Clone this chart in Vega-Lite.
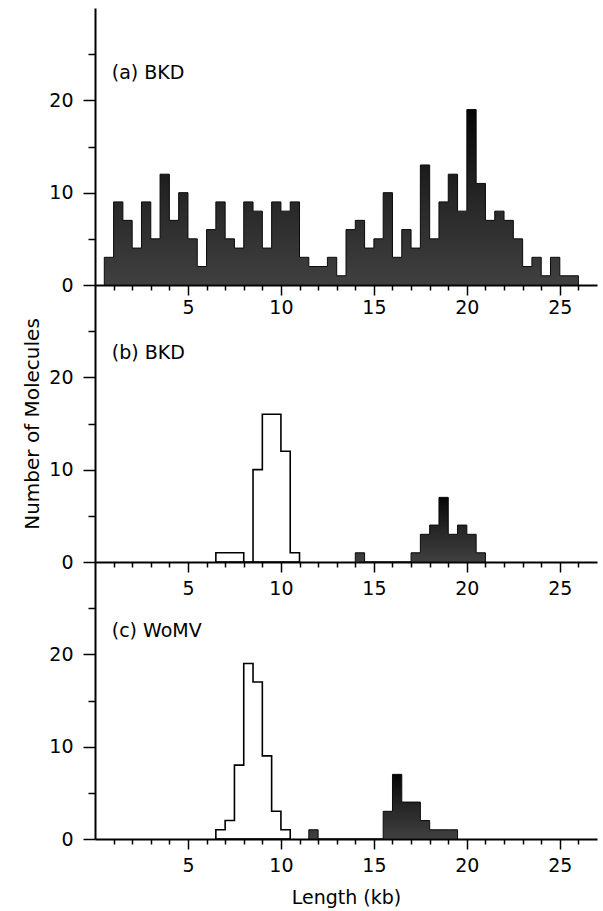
{
  "$schema": "https://vega.github.io/schema/vega-lite/v6.json",
  "background": "white",
  "padding": {"left": 22, "top": 8, "right": 4, "bottom": 2},
  "config": {
    "font": "DejaVu Sans",
    "view": {"stroke": null},
    "axis": {
      "domainColor": "black", "domainWidth": 2, "tickColor": "black", "tickWidth": 1.5,
      "labelColor": "black", "labelFont": "DejaVu Sans", "labelFontSize": 19, "labelFontWeight": "normal",
      "titleColor": "black", "titleFont": "DejaVu Sans", "titleFontWeight": "normal",
      "grid": false, "labelOverlap": false, "labelFlush": false
    },
    "text": {"font": "DejaVu Sans", "fontSize": 19, "fontWeight": "normal", "color": "black"}
  },
  "datasets": {
    "hist": [
      {"panel": "a", "kind": "filled", "kb": 0.5, "n": 3},
      {"panel": "a", "kind": "filled", "kb": 1.0, "n": 9},
      {"panel": "a", "kind": "filled", "kb": 1.5, "n": 7},
      {"panel": "a", "kind": "filled", "kb": 2.0, "n": 4},
      {"panel": "a", "kind": "filled", "kb": 2.5, "n": 9},
      {"panel": "a", "kind": "filled", "kb": 3.0, "n": 5},
      {"panel": "a", "kind": "filled", "kb": 3.5, "n": 12},
      {"panel": "a", "kind": "filled", "kb": 4.0, "n": 7},
      {"panel": "a", "kind": "filled", "kb": 4.5, "n": 10},
      {"panel": "a", "kind": "filled", "kb": 5.0, "n": 5},
      {"panel": "a", "kind": "filled", "kb": 5.5, "n": 2},
      {"panel": "a", "kind": "filled", "kb": 6.0, "n": 6},
      {"panel": "a", "kind": "filled", "kb": 6.5, "n": 9},
      {"panel": "a", "kind": "filled", "kb": 7.0, "n": 5},
      {"panel": "a", "kind": "filled", "kb": 7.5, "n": 4},
      {"panel": "a", "kind": "filled", "kb": 8.0, "n": 9},
      {"panel": "a", "kind": "filled", "kb": 8.5, "n": 8},
      {"panel": "a", "kind": "filled", "kb": 9.0, "n": 4},
      {"panel": "a", "kind": "filled", "kb": 9.5, "n": 9},
      {"panel": "a", "kind": "filled", "kb": 10.0, "n": 8},
      {"panel": "a", "kind": "filled", "kb": 10.5, "n": 9},
      {"panel": "a", "kind": "filled", "kb": 11.0, "n": 3},
      {"panel": "a", "kind": "filled", "kb": 11.5, "n": 2},
      {"panel": "a", "kind": "filled", "kb": 12.0, "n": 2},
      {"panel": "a", "kind": "filled", "kb": 12.5, "n": 3},
      {"panel": "a", "kind": "filled", "kb": 13.0, "n": 1},
      {"panel": "a", "kind": "filled", "kb": 13.5, "n": 6},
      {"panel": "a", "kind": "filled", "kb": 14.0, "n": 7},
      {"panel": "a", "kind": "filled", "kb": 14.5, "n": 4},
      {"panel": "a", "kind": "filled", "kb": 15.0, "n": 5},
      {"panel": "a", "kind": "filled", "kb": 15.5, "n": 10},
      {"panel": "a", "kind": "filled", "kb": 16.0, "n": 3},
      {"panel": "a", "kind": "filled", "kb": 16.5, "n": 6},
      {"panel": "a", "kind": "filled", "kb": 17.0, "n": 4},
      {"panel": "a", "kind": "filled", "kb": 17.5, "n": 13},
      {"panel": "a", "kind": "filled", "kb": 18.0, "n": 5},
      {"panel": "a", "kind": "filled", "kb": 18.5, "n": 9},
      {"panel": "a", "kind": "filled", "kb": 19.0, "n": 12},
      {"panel": "a", "kind": "filled", "kb": 19.5, "n": 8},
      {"panel": "a", "kind": "filled", "kb": 20.0, "n": 19},
      {"panel": "a", "kind": "filled", "kb": 20.5, "n": 11},
      {"panel": "a", "kind": "filled", "kb": 21.0, "n": 7},
      {"panel": "a", "kind": "filled", "kb": 21.5, "n": 8},
      {"panel": "a", "kind": "filled", "kb": 22.0, "n": 7},
      {"panel": "a", "kind": "filled", "kb": 22.5, "n": 5},
      {"panel": "a", "kind": "filled", "kb": 23.0, "n": 2},
      {"panel": "a", "kind": "filled", "kb": 23.5, "n": 3},
      {"panel": "a", "kind": "filled", "kb": 24.0, "n": 1},
      {"panel": "a", "kind": "filled", "kb": 24.5, "n": 3},
      {"panel": "a", "kind": "filled", "kb": 25.0, "n": 1},
      {"panel": "a", "kind": "filled", "kb": 25.5, "n": 1},
      {"panel": "a", "kind": "filled", "kb": 26.0, "n": 0},

      {"panel": "b", "kind": "open", "kb": 6.5, "n": 1},
      {"panel": "b", "kind": "open", "kb": 7.0, "n": 1},
      {"panel": "b", "kind": "open", "kb": 7.5, "n": 1},
      {"panel": "b", "kind": "open", "kb": 8.0, "n": 0},
      {"panel": "b", "kind": "open", "kb": 8.5, "n": 10},
      {"panel": "b", "kind": "open", "kb": 9.0, "n": 16},
      {"panel": "b", "kind": "open", "kb": 9.5, "n": 16},
      {"panel": "b", "kind": "open", "kb": 10.0, "n": 12},
      {"panel": "b", "kind": "open", "kb": 10.5, "n": 1},
      {"panel": "b", "kind": "open", "kb": 11.0, "n": 0},
      {"panel": "b", "kind": "filled", "kb": 14.0, "n": 1},
      {"panel": "b", "kind": "filled", "kb": 14.5, "n": 0},
      {"panel": "b", "kind": "filled", "kb": 17.0, "n": 1},
      {"panel": "b", "kind": "filled", "kb": 17.5, "n": 3},
      {"panel": "b", "kind": "filled", "kb": 18.0, "n": 4},
      {"panel": "b", "kind": "filled", "kb": 18.5, "n": 7},
      {"panel": "b", "kind": "filled", "kb": 19.0, "n": 3},
      {"panel": "b", "kind": "filled", "kb": 19.5, "n": 4},
      {"panel": "b", "kind": "filled", "kb": 20.0, "n": 3},
      {"panel": "b", "kind": "filled", "kb": 20.5, "n": 1},
      {"panel": "b", "kind": "filled", "kb": 21.0, "n": 0},

      {"panel": "c", "kind": "open", "kb": 6.5, "n": 1},
      {"panel": "c", "kind": "open", "kb": 7.0, "n": 2},
      {"panel": "c", "kind": "open", "kb": 7.5, "n": 8},
      {"panel": "c", "kind": "open", "kb": 8.0, "n": 19},
      {"panel": "c", "kind": "open", "kb": 8.5, "n": 17},
      {"panel": "c", "kind": "open", "kb": 9.0, "n": 9},
      {"panel": "c", "kind": "open", "kb": 9.5, "n": 3},
      {"panel": "c", "kind": "open", "kb": 10.0, "n": 1},
      {"panel": "c", "kind": "open", "kb": 10.5, "n": 0},
      {"panel": "c", "kind": "filled", "kb": 11.5, "n": 1},
      {"panel": "c", "kind": "filled", "kb": 12.0, "n": 0},
      {"panel": "c", "kind": "filled", "kb": 15.5, "n": 3},
      {"panel": "c", "kind": "filled", "kb": 16.0, "n": 7},
      {"panel": "c", "kind": "filled", "kb": 16.5, "n": 4},
      {"panel": "c", "kind": "filled", "kb": 17.0, "n": 4},
      {"panel": "c", "kind": "filled", "kb": 17.5, "n": 2},
      {"panel": "c", "kind": "filled", "kb": 18.0, "n": 1},
      {"panel": "c", "kind": "filled", "kb": 18.5, "n": 1},
      {"panel": "c", "kind": "filled", "kb": 19.0, "n": 1},
      {"panel": "c", "kind": "filled", "kb": 19.5, "n": 0}
    ],
    "labels": [
      {"panel": "a", "label": "(a) BKD"},
      {"panel": "b", "label": "(b) BKD"},
      {"panel": "c", "label": "(c) WoMV"}
    ]
  },
  "spacing": 0,
  "bounds": "flush",
  "vconcat": [
    {
      "width": 502, "height": 277,
      "resolve": {"axis": {"x": "independent", "y": "independent"}},
      "layer": [
        {"data": {"name": "hist"},
         "transform": [{"filter": "datum.panel === 'a' && datum.kind === 'filled'"}],
         "mark": {"type": "area", "interpolate": "step-after", "stroke": "#0a0a0a", "strokeWidth": 1,
           "fill": {"gradient": "linear", "x1": 0, "y1": 0, "x2": 0, "y2": 1, "stops": [{"offset": 0, "color": "#050505"}, {"offset": 0.5, "color": "#262626"}, {"offset": 1, "color": "#404040"}]}},
         "encoding": {
           "x": {"field": "kb", "type": "quantitative", "scale": {"domain": [0, 27], "nice": false, "zero": false},
             "axis": {"orient": "bottom", "title": null, "values": [5,10,15,20,25], "tickSize": 10, "labelPadding": 3}},
           "y": {"field": "n", "type": "quantitative", "scale": {"domain": [0, 30], "nice": false},
             "axis": {"orient": "left", "title": null, "values": [0,10,20], "tickSize": 12, "labelPadding": 10}}
         }},
        {"data": {"name": "labels"},
         "transform": [{"filter": "datum.panel === 'a'"}],
         "mark": {"type": "text", "align": "left", "baseline": "middle"},
         "encoding": {
           "x": {"datum": 0.9, "type": "quantitative", "scale": {"domain": [0, 27], "nice": false, "zero": false},
             "axis": {"orient": "bottom", "title": null, "values": [1,2,3,4,6,7,8,9,11,12,13,14,16,17,18,19,21,22,23,24,26], "tickSize": 5, "labels": false, "domain": false}},
           "y": {"datum": 23, "type": "quantitative", "scale": {"domain": [0, 30], "nice": false},
             "axis": {"orient": "left", "title": null, "values": [5,15,25], "tickSize": 7, "labels": false, "domain": false}},
           "text": {"field": "label"}
         }}
      ]
    },
    {
      "width": 502, "height": 277,
      "resolve": {"axis": {"x": "independent", "y": "independent"}},
      "layer": [
        {"data": {"name": "hist"},
         "transform": [{"filter": "datum.panel === 'b' && datum.kind === 'filled'"}],
         "mark": {"type": "area", "interpolate": "step-after", "stroke": "#0a0a0a", "strokeWidth": 1,
           "fill": {"gradient": "linear", "x1": 0, "y1": 0, "x2": 0, "y2": 1, "stops": [{"offset": 0, "color": "#050505"}, {"offset": 0.5, "color": "#262626"}, {"offset": 1, "color": "#404040"}]}},
         "encoding": {
           "x": {"field": "kb", "type": "quantitative", "scale": {"domain": [0, 27], "nice": false, "zero": false},
             "axis": {"orient": "bottom", "title": null, "values": [5,10,15,20,25], "tickSize": 10, "labelPadding": 7}},
           "y": {"field": "n", "type": "quantitative", "scale": {"domain": [0, 30], "nice": false},
             "axis": {"orient": "left", "title": "Number of Molecules", "titleFontSize": 20, "titlePadding": 6, "values": [0,10,20], "tickSize": 12, "labelPadding": 10}}
         }},
        {"data": {"name": "hist"},
         "transform": [{"filter": "datum.panel === 'b' && datum.kind === 'open'"}],
         "mark": {"type": "area", "interpolate": "step-after", "stroke": "black", "strokeWidth": 1.6, "fill": "white", "fillOpacity": 0},
         "encoding": {
           "x": {"field": "kb", "type": "quantitative", "scale": {"domain": [0, 27], "nice": false, "zero": false}, "axis": null},
           "y": {"field": "n", "type": "quantitative", "scale": {"domain": [0, 30], "nice": false}, "axis": null}
         }},
        {"data": {"name": "labels"},
         "transform": [{"filter": "datum.panel === 'b'"}],
         "mark": {"type": "text", "align": "left", "baseline": "middle"},
         "encoding": {
           "x": {"datum": 0.9, "type": "quantitative", "scale": {"domain": [0, 27], "nice": false, "zero": false},
             "axis": {"orient": "bottom", "title": null, "values": [1,2,3,4,6,7,8,9,11,12,13,14,16,17,18,19,21,22,23,24,26], "tickSize": 5, "labels": false, "domain": false}},
           "y": {"datum": 22.6, "type": "quantitative", "scale": {"domain": [0, 30], "nice": false},
             "axis": {"orient": "left", "title": null, "values": [5,15,25], "tickSize": 7, "labels": false, "domain": false}},
           "text": {"field": "label"}
         }}
      ]
    },
    {
      "width": 502, "height": 277,
      "resolve": {"axis": {"x": "independent", "y": "independent"}},
      "layer": [
        {"data": {"name": "hist"},
         "transform": [{"filter": "datum.panel === 'c' && datum.kind === 'filled'"}],
         "mark": {"type": "area", "interpolate": "step-after", "stroke": "#0a0a0a", "strokeWidth": 1,
           "fill": {"gradient": "linear", "x1": 0, "y1": 0, "x2": 0, "y2": 1, "stops": [{"offset": 0, "color": "#050505"}, {"offset": 0.5, "color": "#262626"}, {"offset": 1, "color": "#404040"}]}},
         "encoding": {
           "x": {"field": "kb", "type": "quantitative", "scale": {"domain": [0, 27], "nice": false, "zero": false},
             "axis": {"orient": "bottom", "title": "Length (kb)", "titleFontSize": 19, "titlePadding": 13, "values": [5,10,15,20,25], "tickSize": 10, "labelPadding": 7}},
           "y": {"field": "n", "type": "quantitative", "scale": {"domain": [0, 30], "nice": false},
             "axis": {"orient": "left", "title": null, "values": [0,10,20], "tickSize": 12, "labelPadding": 10}}
         }},
        {"data": {"name": "hist"},
         "transform": [{"filter": "datum.panel === 'c' && datum.kind === 'open'"}],
         "mark": {"type": "area", "interpolate": "step-after", "stroke": "black", "strokeWidth": 1.6, "fill": "white", "fillOpacity": 0},
         "encoding": {
           "x": {"field": "kb", "type": "quantitative", "scale": {"domain": [0, 27], "nice": false, "zero": false}, "axis": null},
           "y": {"field": "n", "type": "quantitative", "scale": {"domain": [0, 30], "nice": false}, "axis": null}
         }},
        {"data": {"name": "labels"},
         "transform": [{"filter": "datum.panel === 'c'"}],
         "mark": {"type": "text", "align": "left", "baseline": "middle"},
         "encoding": {
           "x": {"datum": 0.9, "type": "quantitative", "scale": {"domain": [0, 27], "nice": false, "zero": false},
             "axis": {"orient": "bottom", "title": null, "values": [1,2,3,4,6,7,8,9,11,12,13,14,16,17,18,19,21,22,23,24,26], "tickSize": 5, "labels": false, "domain": false}},
           "y": {"datum": 22.5, "type": "quantitative", "scale": {"domain": [0, 30], "nice": false},
             "axis": {"orient": "left", "title": null, "values": [5,15,25], "tickSize": 7, "labels": false, "domain": false}},
           "text": {"field": "label"}
         }}
      ]
    }
  ]
}
